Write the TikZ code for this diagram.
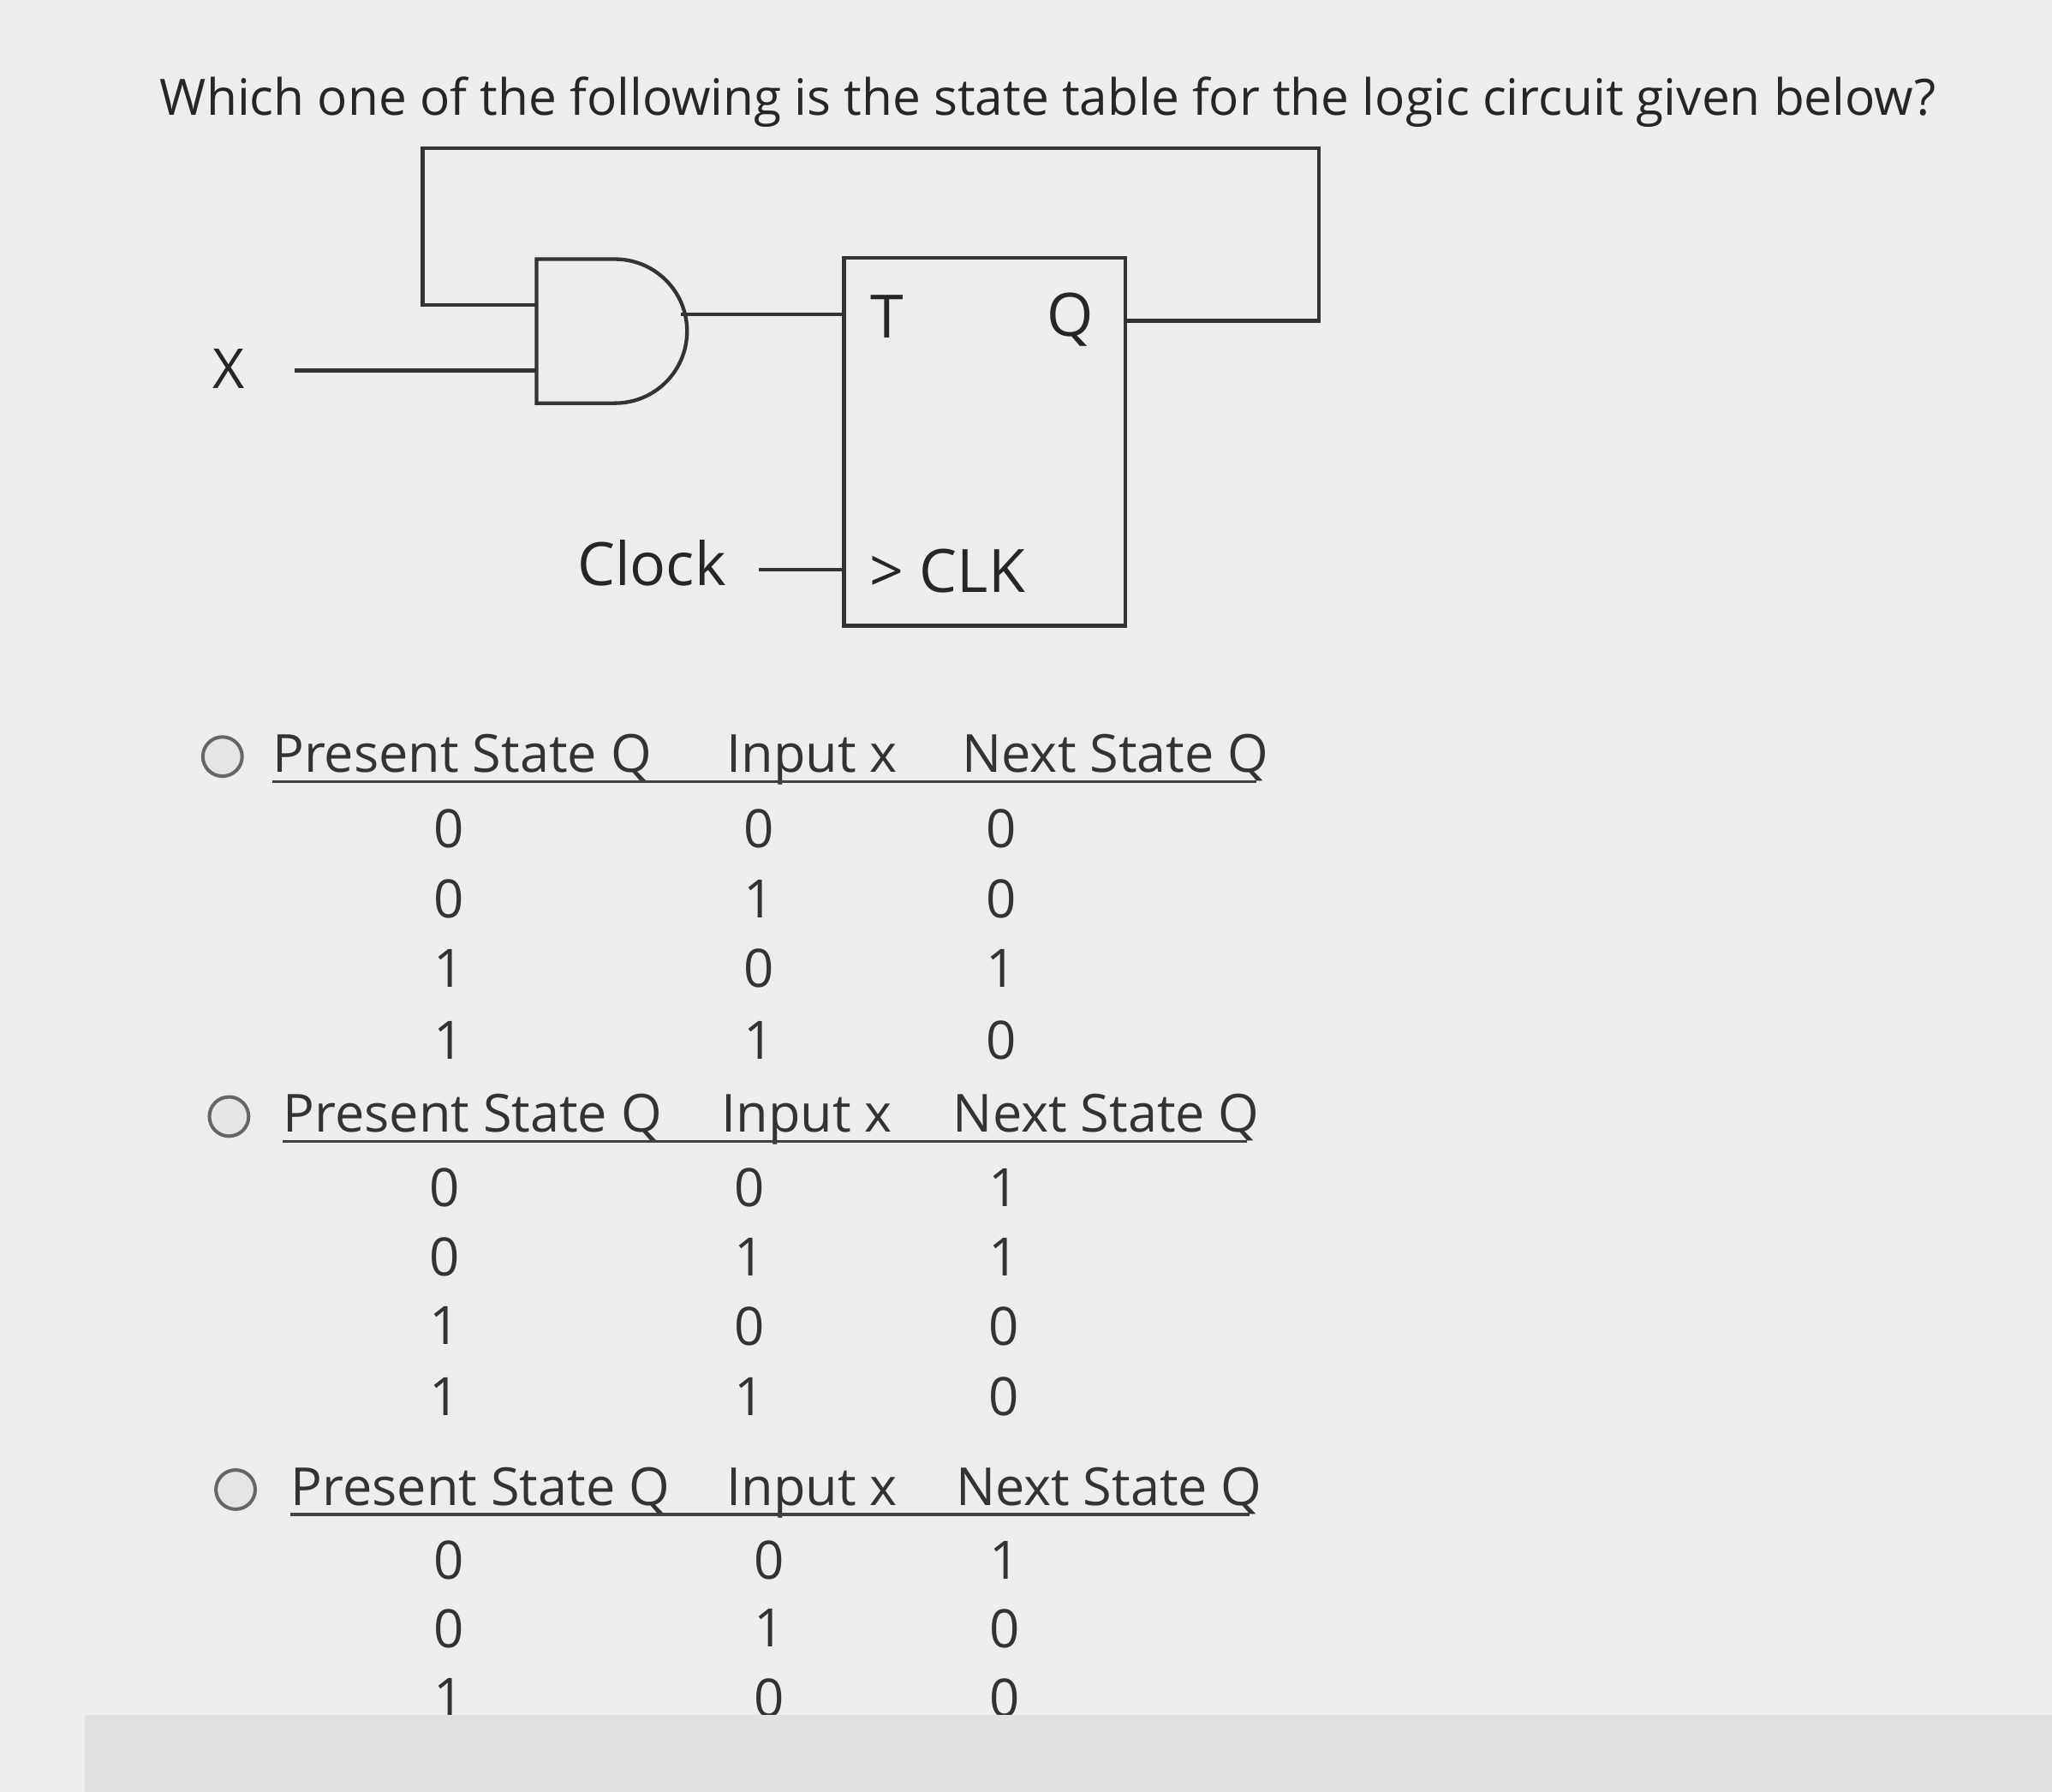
\documentclass[tikz,border=0pt]{standalone}
\usepackage{fontspec}
\setmainfont{Open Sans}
\begin{document}
\begin{tikzpicture}[x=0.02cm,y=-0.02cm,
  wire/.style={line width=1.6pt,black!80},
  txt/.style={font=\fontsize{21.8}{26}\selectfont,text=black!85,inner sep=0pt},
  ctxt/.style={font=\fontsize{26}{30}\selectfont,text=black!85,inner sep=0pt},
  cell/.style={font=\fontsize{23}{27}\selectfont,text=black!80,inner sep=0pt},
  hdr/.style={font=\fontsize{22.8}{27}\selectfont,text=black!80,inner sep=0pt,anchor=base west},
  radio/.style={circle,draw=black!60,line width=1.5pt,minimum size=0.6cm,inner sep=0pt,fill=white!90!black}]
\fill[black!7] (0,0) rectangle (1568,1369);
\useasboundingbox (0,0) rectangle (1568,1369);
\node[txt,anchor=base west] (title) at (122,88) {Which one of the following is the state table for the logic circuit given below?};
% circuit
\draw[wire] (645,197) rectangle (860,478);
\coordinate (ffT) at (645,240);
\coordinate (ffQ) at (860,245);
\coordinate (ffC) at (645,435);
\node[ctxt] (T) at (678,242) {T};
\node[ctxt] (Q) at (818,244) {Q};
\node[ctxt] (clk) at (724,436) {> CLK};
\node[ctxt] (clock) at (498,430) {Clock};
\node[ctxt,font=\fontsize{24}{28}\selectfont] (X) at (175,282) {X};
\draw[wire] (410,198) -- (470,198) arc[start angle=-90,end angle=90,radius=55] -- (410,308) -- cycle;
\coordinate (gout) at (520,240);
\draw[wire] (gout) -- (ffT);
\draw[wire] (225,283) -- (410,283);
\draw[wire] (ffQ) -- (1008,245) -- (1008,113) -- (323,113) -- (323,233) -- (410,233);
\draw[wire] (580,435) -- (ffC);
% tables
\foreach \t/\yh/\cx/\pa/\pb/\pc in {1/578/170/208/555/735, 2/853/175/216/551/728, 3/1138/180/222/555/730}{
  \node[radio] (r\t) at (\cx,\yh) {};
  \node[hdr] (h1\t) at (\pa,\yh+12) {Present State Q};
  \node[hdr] (h2\t) at (\pb,\yh+12) {Input x};
  \node[hdr] (h3\t) at (\pc,\yh+12) {Next State Q};
  \draw[black!75,line width=1.2pt] (\pa,\yh+19) -- (\pc+225,\yh+19);
}
\foreach \a/\b/\c/\y in {0/0/0/633,0/1/0/687,1/0/1/740,1/1/0/795}{
  \node[cell] at (343,\y) {\a}; \node[cell] at (580,\y) {\b}; \node[cell] at (765,\y) {\c};}
\foreach \a/\b/\c/\y in {0/0/1/907,0/1/1/960,1/0/0/1013,1/1/0/1067}{
  \node[cell] at (340,\y) {\a}; \node[cell] at (573,\y) {\b}; \node[cell] at (767,\y) {\c};}
\foreach \a/\b/\c/\y in {0/0/1/1192,0/1/0/1244,1/0/0/1297}{
  \node[cell] at (343,\y) {\a}; \node[cell] at (588,\y) {\b}; \node[cell] at (768,\y) {\c};}
\fill[black!12] (65,1310) rectangle (1568,1369);
\end{tikzpicture}
\end{document}
